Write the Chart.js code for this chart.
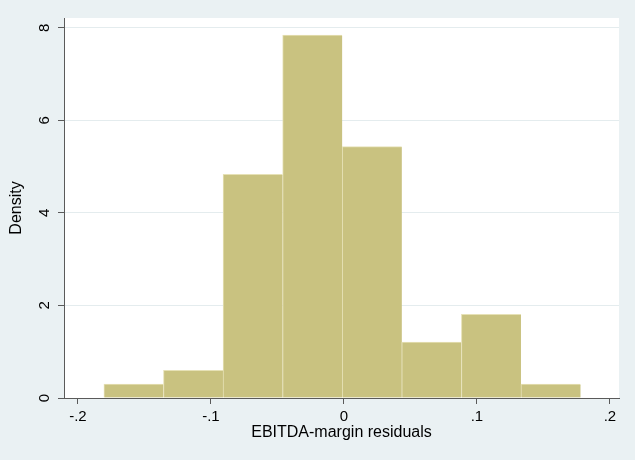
<!DOCTYPE html>
<html>
<head>
<meta charset="utf-8">
<script src="https://cdn.jsdelivr.net/npm/chart.js@4/dist/chart.umd.min.js"></script>
<style>
  html, body { margin: 0; padding: 0; background: #EAF1F3; }
  #wrap { width: 635px; height: 460px; }
</style>
</head>
<body>
<div id="wrap"><canvas id="c" width="635" height="460"></canvas></div>
<script>
// Histogram of EBITDA-margin residuals (density scale)
const binStart = -0.1805;
const binWidth = 0.0448;
const densities = [0.30, 0.60, 4.83, 7.84, 5.43, 1.21, 1.81, 0.30];
const xTicks = [-0.2, -0.1, 0, 0.1, 0.2];
const xTickLabels = ['-.2', '-.1', '0', '.1', '.2'];
const yTicks = [0, 2, 4, 6, 8];
const yTickLabels = ['0', '2', '4', '6', '8'];

const points = densities.map((d, i) => ({ x: binStart + binWidth * (i + 0.5), y: d }));

const plotBg = {
  id: 'plotBg',
  beforeDraw(chart) {
    const { ctx, chartArea: a } = chart;
    ctx.save();
    ctx.fillStyle = '#FFFFFF';
    ctx.fillRect(a.left, a.top, a.right - a.left, a.bottom - a.top);
    ctx.restore();
  }
};

const font = { family: "'Liberation Sans', Arial, sans-serif", size: 15 };
const titleFont = { family: "'Liberation Sans', Arial, sans-serif", size: 16 };
const axisColor = '#5A5A5A';

new Chart(document.getElementById('c'), {
  type: 'bar',
  data: {
    datasets: [{
      data: points,
      backgroundColor: 'rgb(201,194,128)',
      borderColor: 'rgb(230,225,182)',
      borderWidth: { top: 1, left: 1, right: 0, bottom: 0 },
      borderSkipped: false,
      categoryPercentage: 1,
      barPercentage: 1
    }]
  },
  options: {
    responsive: false,
    animation: false,
    devicePixelRatio: 1,
    layout: { padding: { top: 15, right: 16, bottom: 0, left: 0 } },
    plugins: { legend: { display: false }, tooltip: { enabled: false } },
    scales: {
      x: {
        type: 'linear',
        offset: false,
        min: -0.2105,
        max: 0.2068,
        afterFit(s) { s.height = 62; },
        afterBuildTicks(s) { s.ticks = xTicks.map(v => ({ value: v })); },
        ticks: {
          color: '#000',
          font: font,
          padding: 4,
          maxRotation: 0,
          callback: (v) => xTickLabels[xTicks.findIndex(t => Math.abs(t - v) < 1e-9)]
        },
        grid: { offset: false, drawOnChartArea: false, drawTicks: true, tickLength: 6, tickColor: axisColor },
        border: { display: true, color: axisColor, width: 1 },
        title: {
          display: true,
          text: 'EBITDA-margin residuals',
          color: '#000',
          font: titleFont,
          padding: { top: 0, bottom: 18 }
        }
      },
      y: {
        type: 'linear',
        min: 0,
        max: 8.21,
        afterFit(s) { s.width = 64; },
        afterBuildTicks(s) { s.ticks = yTicks.map(v => ({ value: v })); },
        ticks: {
          color: '#000',
          font: font,
          padding: 9,
          minRotation: 90,
          maxRotation: 90,
          crossAlign: 'center',
          callback: (v) => yTickLabels[yTicks.indexOf(v)]
        },
        grid: { color: '#E4ECEE', lineWidth: 1, drawTicks: true, tickLength: 6, tickColor: axisColor },
        border: { display: true, color: axisColor, width: 1 },
        title: {
          display: true,
          text: 'Density',
          color: '#000',
          font: titleFont,
          padding: { top: 7, bottom: 0 }
        }
      }
    }
  },
  plugins: [plotBg]
});
</script>
</body>
</html>
